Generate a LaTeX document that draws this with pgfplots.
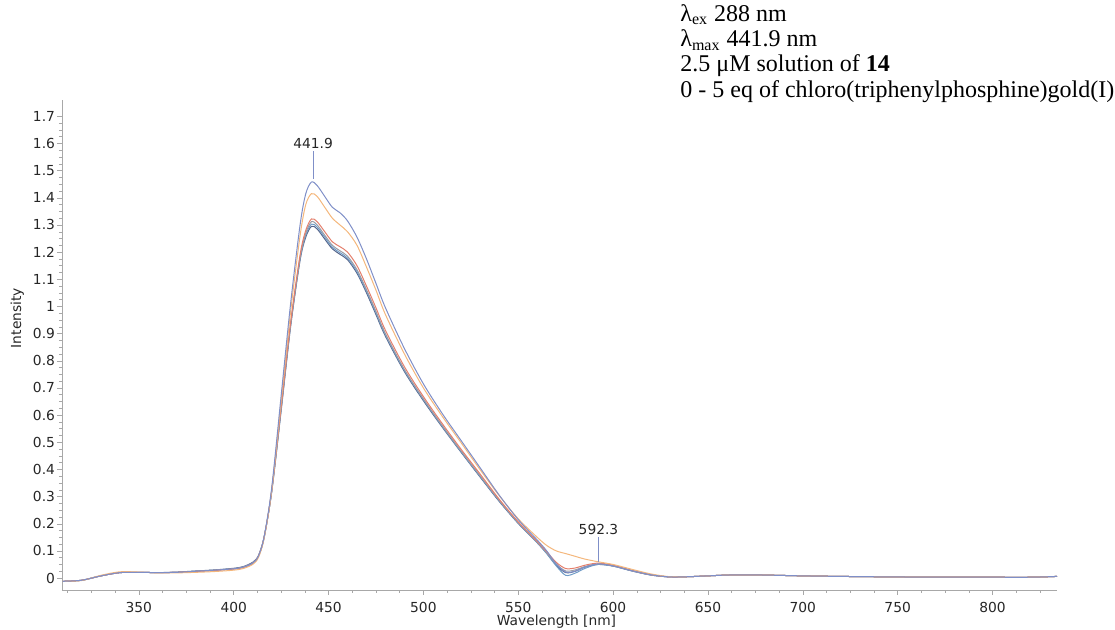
\documentclass[border=0pt]{standalone}
\usepackage{fontspec}
\setmainfont{Liberation Serif}
\newfontfamily\tickfont{DejaVu Sans}
\usepackage{pgfplots}
\usepackage{pgfplotstable}
\pgfplotsset{compat=1.18}

\definecolor{axgray}{HTML}{A8A8A8}
\definecolor{cslate}{HTML}{7F8FC8}
\definecolor{corange}{HTML}{F4B77C}
\definecolor{cred}{HTML}{E47F6C}
\definecolor{cgray}{HTML}{9A9CA6}
\definecolor{clblue}{HTML}{6E9BC6}
\definecolor{cnavy}{HTML}{55648A}

% wl, then one column per titration step
\pgfplotstableread{
wl   s1     s2     s3     s4     s5     s6
310 -0.012 -0.012 -0.012 -0.012 -0.012 -0.012
320 -0.008 -0.009 -0.008 -0.008 -0.008 -0.008
330  0.008  0.010  0.008  0.008  0.008  0.008
340  0.020  0.023  0.020  0.020  0.020  0.020
350  0.021  0.022  0.021  0.021  0.021  0.021
360  0.020  0.019  0.020  0.020  0.020  0.020
370  0.021  0.019  0.021  0.021  0.021  0.022
380  0.025  0.021  0.024  0.025  0.025  0.026
390  0.029  0.024  0.028  0.029  0.029  0.030
400  0.034  0.029  0.033  0.034  0.034  0.036
405  0.040  0.035  0.039  0.040  0.040  0.042
410  0.055  0.050  0.054  0.055  0.055  0.058
413  0.080  0.075  0.080  0.080  0.080  0.082
416  0.150  0.145  0.148  0.148  0.148  0.150
420  0.330  0.320  0.320  0.318  0.316  0.315
425  0.670  0.650  0.630  0.625  0.620  0.615
430  1.010  0.980  0.940  0.935  0.930  0.925
435  1.300  1.260  1.190  1.180  1.175  1.170
438  1.415  1.375  1.280  1.270  1.262  1.255
441  1.458  1.415  1.322  1.312  1.303  1.295
444  1.445  1.405  1.312  1.300  1.292  1.285
448  1.405  1.365  1.275  1.262  1.255  1.248
452  1.365  1.325  1.238  1.225  1.218  1.212
456  1.345  1.300  1.220  1.205  1.198  1.192
460  1.315  1.275  1.200  1.185  1.178  1.172
465  1.255  1.225  1.150  1.135  1.128  1.122
470  1.175  1.145  1.075  1.062  1.056  1.050
475  1.085  1.060  0.995  0.982  0.976  0.970
480  0.995  0.970  0.912  0.900  0.895  0.890
490  0.845  0.825  0.778  0.768  0.764  0.760
500  0.715  0.700  0.668  0.660  0.657  0.653
510  0.605  0.595  0.568  0.561  0.558  0.555
520  0.505  0.497  0.473  0.467  0.464  0.462
530  0.405  0.398  0.382  0.376  0.373  0.371
540  0.305  0.303  0.290  0.286  0.284  0.282
550  0.215  0.218  0.207  0.204  0.202  0.201
560  0.140  0.150  0.135  0.132  0.130  0.130
565  0.100  0.120  0.097  0.094  0.090  0.091
570  0.052  0.100  0.058  0.052  0.045  0.048
575  0.022  0.090  0.035  0.026  0.010  0.020
580  0.025  0.080  0.037  0.030  0.018  0.025
585  0.040  0.070  0.047  0.042  0.035  0.040
592  0.052  0.060  0.055  0.052  0.050  0.050
600  0.045  0.050  0.047  0.045  0.044  0.044
610  0.027  0.032  0.028  0.027  0.026  0.026
620  0.012  0.015  0.012  0.012  0.011  0.011
630  0.004  0.005  0.004  0.004  0.004  0.004
640  0.005  0.005  0.005  0.005  0.005  0.005
650  0.008  0.008  0.008  0.008  0.008  0.008
660  0.011  0.011  0.011  0.011  0.011  0.011
670  0.012  0.012  0.012  0.012  0.012  0.012
680  0.011  0.011  0.011  0.011  0.011  0.011
700  0.008  0.008  0.008  0.008  0.008  0.008
720  0.006  0.006  0.006  0.006  0.006  0.006
750  0.004  0.004  0.004  0.004  0.004  0.004
780  0.003  0.003  0.003  0.003  0.003  0.003
800  0.003  0.003  0.003  0.003  0.003  0.003
820  0.003  0.003  0.003  0.003  0.003  0.003
834  0.006  0.006  0.006  0.006  0.006  0.006
}\spectra

\begin{document}
\begin{tikzpicture}
\useasboundingbox (-31pt,-20pt) rectangle (526.5pt,295pt);
\begin{axis}[
    at={(0,0)}, anchor=south west,
    scale only axis, width=497.5pt, height=245pt,
    xmin=309.5, xmax=834, ymin=-0.044, ymax=1.76,
    axis x line*=bottom, axis y line*=left,
    axis line style={draw=axgray, -},
    tick align=outside,
    major tick length=2.5pt, minor tick length=1.5pt,
    tick style={axgray},
    xtick={350,400,...,800},
    minor xtick={312.5,325,...,832.5},
    ytick={0,0.1,0.2,0.3,0.4,0.5,0.6,0.7,0.8,0.9,1,1.1,1.2,1.3,1.4,1.5,1.6,1.7},
    minor y tick num=3,
    /pgf/number format/assume math mode=true,
    ticklabel style={font=\tickfont\fontsize{6.9}{8}\selectfont, text=black!85},
    yticklabel style={xshift=2.5pt},
    xlabel={Wavelength [nm]},
    ylabel={Intensity},
    label style={font=\tickfont\fontsize{6.9}{8}\selectfont, text=black!85},
    xlabel style={at={(axis description cs:0.497,0)}, anchor=center, yshift=-16pt},
    ylabel style={at={(axis description cs:-0.031,0.555)}, anchor=south},
    every axis plot/.append style={line width=0.5pt, smooth, no marks},
    clip=false,
]
\addplot[cnavy]   table[x=wl, y=s6] {\spectra};
\addplot[clblue]  table[x=wl, y=s5] {\spectra};
\addplot[cgray]   table[x=wl, y=s4] {\spectra};
\addplot[cred]    table[x=wl, y=s3] {\spectra};
\addplot[corange] table[x=wl, y=s2] {\spectra};
\addplot[cslate]  table[x=wl, y=s1] {\spectra};

\draw[cslate, line width=0.5pt] (axis cs:441.9,1.47) -- (axis cs:441.9,1.572);
\node[anchor=south, inner sep=1pt, font=\tickfont\fontsize{6.9}{8}\selectfont, text=black!85]
    at (axis cs:441.9,1.572) {441.9};
\draw[cslate, line width=0.5pt] (axis cs:592.3,0.06) -- (axis cs:592.3,0.151);
\node[anchor=south, inner sep=1pt, font=\tickfont\fontsize{6.9}{8}\selectfont, text=black!85]
    at (axis cs:592.3,0.151) {592.3};
\end{axis}
\node[anchor=north west, inner sep=0pt, align=left, font=\fontsize{12}{12.65}\selectfont]
    at (309pt,293pt) {λ\textsubscript{ex} 288 nm\\
λ\textsubscript{max} 441.9 nm\\
2.5 μM solution of \textbf{14}\\
0 - 5 eq of chloro(triphenylphosphine)gold(I)};
\end{tikzpicture}
\end{document}
